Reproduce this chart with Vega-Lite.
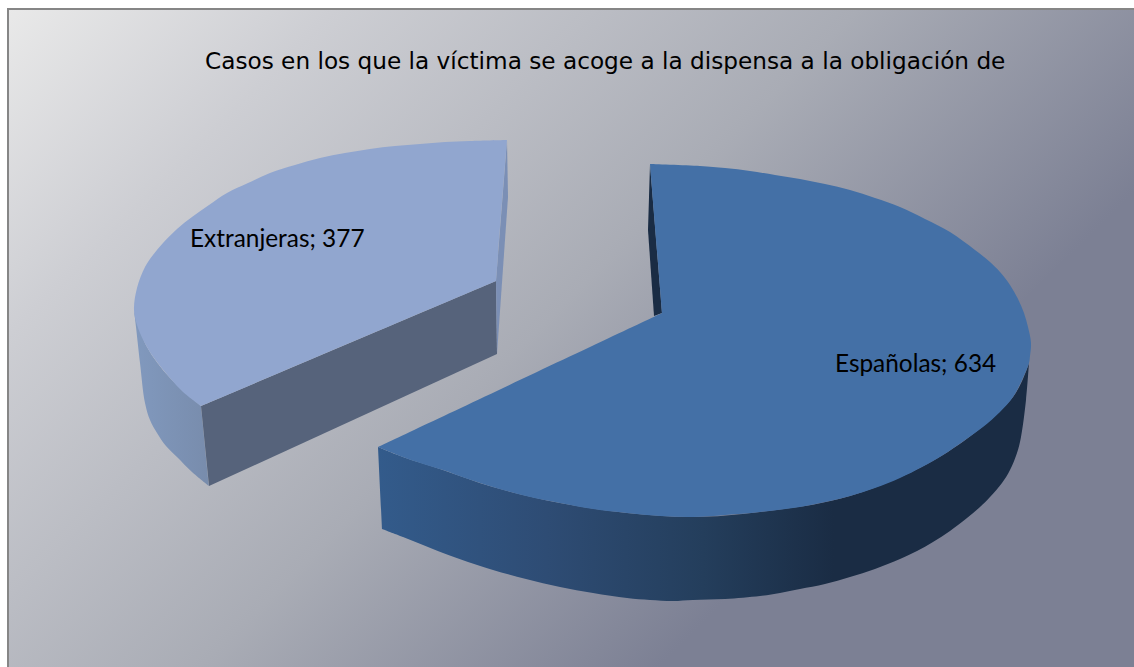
{
"$schema":"https://vega.github.io/schema/vega-lite/v6.json",
"width":1134,"height":667,"padding":0,"autosize":{"type":"none"},"background":"white",
"config":{"view":{"stroke":null}},
"datasets":{
"slices":[{"categoria":"Españolas","valor":634,"etiqueta":"Españolas; 634","x":835,"y":372},{"categoria":"Extranjeras","valor":377,"etiqueta":"Extranjeras; 377","x":190,"y":247}],
"panel":[{"x":8,"y":9,"x2":1136,"y2":1137}],
"titulo":[{"texto":"Casos en los que la víctima se acoge a la dispensa a la obligación de","x":205,"y":69}],
"extSide":[{"i":0,"x":134,"y":310},{"i":1,"x":136,"y":327},{"i":2,"x":140,"y":363},{"i":3,"x":145,"y":403},{"i":4,"x":150,"y":420},{"i":5,"x":157,"y":433},{"i":6,"x":166,"y":446},{"i":7,"x":177,"y":457},{"i":8,"x":192,"y":472},{"i":9,"x":209,"y":486},{"i":10,"x":209,"y":486},{"i":11,"x":201,"y":406},{"i":12,"x":201,"y":406},{"i":13,"x":170,"y":378},{"i":14,"x":147,"y":347},{"i":15,"x":134,"y":310}],
"extCut":[{"i":0,"x":201,"y":406},{"i":1,"x":496,"y":281},{"i":2,"x":497,"y":354},{"i":3,"x":209,"y":486},{"i":4,"x":201,"y":406}],
"extBack":[{"i":0,"x":507,"y":140},{"i":1,"x":508,"y":197},{"i":2,"x":497,"y":354},{"i":3,"x":496,"y":281},{"i":4,"x":507,"y":140}],
"extTop":[{"i":0,"x":201,"y":406},{"i":1,"x":201,"y":406},{"i":2,"x":183,"y":392},{"i":3,"x":170,"y":378},{"i":4,"x":157,"y":362},{"i":5,"x":147,"y":347},{"i":6,"x":138,"y":328},{"i":7,"x":134,"y":310},{"i":8,"x":137,"y":288},{"i":9,"x":145,"y":267},{"i":10,"x":153,"y":255},{"i":11,"x":163,"y":243},{"i":12,"x":177,"y":229},{"i":13,"x":192,"y":217},{"i":14,"x":209,"y":205},{"i":15,"x":227,"y":193},{"i":16,"x":248,"y":183},{"i":17,"x":270,"y":173},{"i":18,"x":295,"y":165},{"i":19,"x":320,"y":158},{"i":20,"x":345,"y":153},{"i":21,"x":370,"y":149},{"i":22,"x":395,"y":146},{"i":23,"x":420,"y":144},{"i":24,"x":445,"y":142},{"i":25,"x":470,"y":141},{"i":26,"x":507,"y":140},{"i":27,"x":507,"y":140},{"i":28,"x":496,"y":281},{"i":29,"x":496,"y":281},{"i":30,"x":201,"y":406},{"i":31,"x":201,"y":406}],
"espBack":[{"i":0,"x":650,"y":164},{"i":1,"x":662,"y":313},{"i":2,"x":654,"y":316},{"i":3,"x":648,"y":230},{"i":4,"x":650,"y":164}],
"espSide":[{"i":0,"x":378,"y":447},{"i":1,"x":378,"y":447},{"i":2,"x":403,"y":457},{"i":3,"x":443,"y":470},{"i":4,"x":493,"y":487},{"i":5,"x":560,"y":503},{"i":6,"x":627,"y":513},{"i":7,"x":693,"y":517},{"i":8,"x":760,"y":512},{"i":9,"x":850,"y":496},{"i":10,"x":943,"y":455},{"i":11,"x":1013,"y":397},{"i":12,"x":1029,"y":363},{"i":13,"x":1029,"y":363},{"i":14,"x":1026,"y":400},{"i":15,"x":1021,"y":437},{"i":16,"x":1017,"y":453},{"i":17,"x":1010,"y":470},{"i":18,"x":1002,"y":483},{"i":19,"x":990,"y":497},{"i":20,"x":980,"y":507},{"i":21,"x":967,"y":518},{"i":22,"x":950,"y":531},{"i":23,"x":933,"y":542},{"i":24,"x":917,"y":551},{"i":25,"x":900,"y":559},{"i":26,"x":875,"y":569},{"i":27,"x":850,"y":577},{"i":28,"x":825,"y":584},{"i":29,"x":800,"y":589},{"i":30,"x":780,"y":593},{"i":31,"x":760,"y":596},{"i":32,"x":725,"y":599},{"i":33,"x":693,"y":600},{"i":34,"x":673,"y":601},{"i":35,"x":650,"y":600},{"i":36,"x":627,"y":598},{"i":37,"x":593,"y":593},{"i":38,"x":560,"y":587},{"i":39,"x":526,"y":579},{"i":40,"x":493,"y":570},{"i":41,"x":468,"y":562},{"i":42,"x":443,"y":553},{"i":43,"x":423,"y":545},{"i":44,"x":403,"y":537},{"i":45,"x":382,"y":529},{"i":46,"x":382,"y":529},{"i":47,"x":378,"y":447},{"i":48,"x":378,"y":447}],
"espTop":[{"i":0,"x":650,"y":164},{"i":1,"x":650,"y":164},{"i":2,"x":700,"y":166},{"i":3,"x":725,"y":168},{"i":4,"x":750,"y":171},{"i":5,"x":775,"y":175},{"i":6,"x":800,"y":179},{"i":7,"x":825,"y":184},{"i":8,"x":850,"y":190},{"i":9,"x":875,"y":198},{"i":10,"x":900,"y":207},{"i":11,"x":925,"y":219},{"i":12,"x":950,"y":232},{"i":13,"x":975,"y":250},{"i":14,"x":990,"y":262},{"i":15,"x":1000,"y":272},{"i":16,"x":1010,"y":285},{"i":17,"x":1018,"y":299},{"i":18,"x":1024,"y":313},{"i":19,"x":1028,"y":327},{"i":20,"x":1031,"y":343},{"i":21,"x":1030,"y":356},{"i":22,"x":1029,"y":363},{"i":23,"x":1022,"y":380},{"i":24,"x":1013,"y":397},{"i":25,"x":1000,"y":412},{"i":26,"x":983,"y":427},{"i":27,"x":965,"y":440},{"i":28,"x":943,"y":455},{"i":29,"x":922,"y":467},{"i":30,"x":900,"y":478},{"i":31,"x":875,"y":488},{"i":32,"x":850,"y":496},{"i":33,"x":825,"y":502},{"i":34,"x":800,"y":507},{"i":35,"x":760,"y":512},{"i":36,"x":725,"y":515},{"i":37,"x":693,"y":517},{"i":38,"x":660,"y":516},{"i":39,"x":627,"y":513},{"i":40,"x":593,"y":509},{"i":41,"x":560,"y":503},{"i":42,"x":526,"y":496},{"i":43,"x":493,"y":487},{"i":44,"x":468,"y":479},{"i":45,"x":443,"y":470},{"i":46,"x":423,"y":464},{"i":47,"x":403,"y":457},{"i":48,"x":378,"y":447},{"i":49,"x":378,"y":447},{"i":50,"x":662,"y":313},{"i":51,"x":662,"y":313},{"i":52,"x":650,"y":164},{"i":53,"x":650,"y":164}]
},
"encoding":{
"x":{"field":"x","type":"quantitative","scale":{"domain":[0,1134],"nice":false,"zero":false},"axis":null},
"y":{"field":"y","type":"quantitative","scale":{"domain":[667,0],"nice":false,"zero":false},"axis":null}
},
"layer":[
{"data":{"name":"panel"},"mark":{"type":"rect","clip":true,"stroke":"#868686","strokeWidth":2,"fill":{"gradient":"linear","x1":0,"y1":0,"x2":0.58,"y2":0.58,"stops":[{"offset":0,"color":"#e9e9e9"},{"offset":0.25,"color":"#cdced3"},{"offset":0.65,"color":"#a9acb5"},{"offset":1,"color":"#7c8094"}]}},"encoding":{"x2":{"field":"x2"},"y2":{"field":"y2"}}},
{"data":{"name":"extSide"},"mark":{"type":"line","interpolate":"catmull-rom","stroke":null,"strokeWidth":0,"fill":{"gradient":"linear","x1":0,"y1":0,"x2":1,"y2":0,"stops":[{"offset":0,"color":"#8199be"},{"offset":1,"color":"#788cac"}]}},"encoding":{"order":{"field":"i","type":"quantitative"}}},
{"data":{"name":"extCut"},"mark":{"type":"line","stroke":null,"strokeWidth":0,"fill":"#56637b"},"encoding":{"order":{"field":"i","type":"quantitative"}}},
{"data":{"name":"extBack"},"mark":{"type":"line","stroke":null,"strokeWidth":0,"fill":"#7b8fb5"},"encoding":{"order":{"field":"i","type":"quantitative"}}},
{"data":{"name":"extTop"},"mark":{"type":"line","interpolate":"catmull-rom","stroke":null,"strokeWidth":0,"fill":"#91a6cf"},"encoding":{"order":{"field":"i","type":"quantitative"}}},
{"data":{"name":"espBack"},"mark":{"type":"line","stroke":null,"strokeWidth":0,"fill":"#1a2c44"},"encoding":{"order":{"field":"i","type":"quantitative"}}},
{"data":{"name":"espSide"},"mark":{"type":"line","interpolate":"catmull-rom","stroke":null,"strokeWidth":0,"fill":{"gradient":"linear","x1":0,"y1":0,"x2":1,"y2":0,"stops":[{"offset":0,"color":"#335b8b"},{"offset":0.26,"color":"#2e4c74"},{"offset":0.5,"color":"#243e5c"},{"offset":0.7,"color":"#1a2c44"},{"offset":1,"color":"#1a2c44"}]}},"encoding":{"order":{"field":"i","type":"quantitative"}}},
{"data":{"name":"espTop"},"mark":{"type":"line","interpolate":"catmull-rom","stroke":null,"strokeWidth":0,"fill":"#4470a6"},"encoding":{"order":{"field":"i","type":"quantitative"}}},
{"data":{"name":"slices"},"mark":{"type":"text","align":"left","baseline":"alphabetic","font":"Lato","fontSize":24.4,"color":"#000000"},"encoding":{"text":{"field":"etiqueta"}}},
{"data":{"name":"titulo"},"mark":{"type":"text","align":"left","baseline":"alphabetic","font":"DejaVu Sans","fontSize":23.2,"color":"#000000"},"encoding":{"text":{"field":"texto"}}}
]
}
